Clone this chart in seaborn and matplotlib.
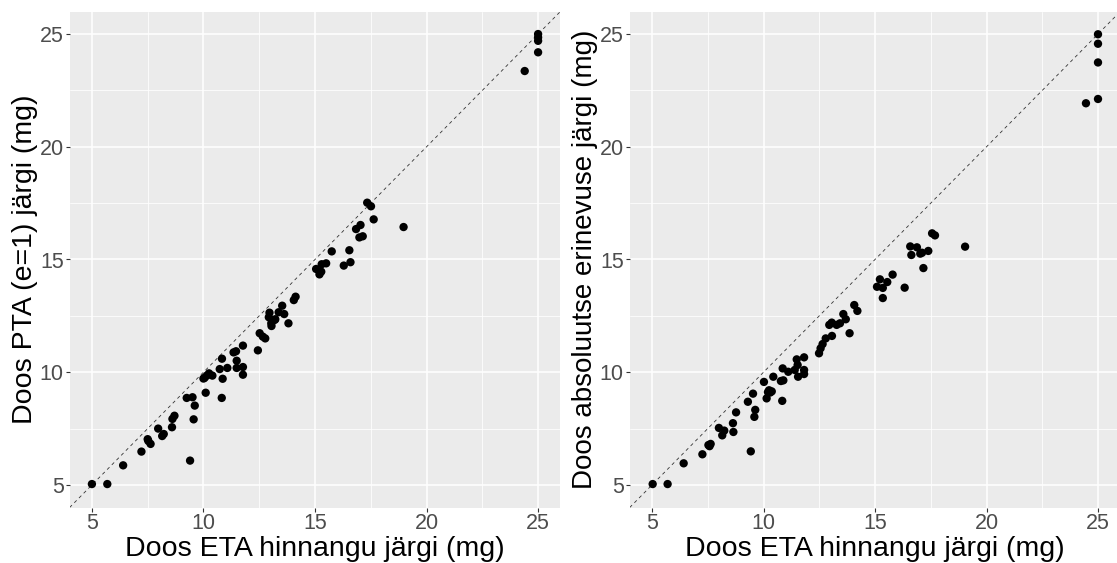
import matplotlib
matplotlib.use("Agg")
import matplotlib.pyplot as plt
import seaborn as sns
import pandas as pd

# ETA-based dose vs. dose from the PTA (e=1) criterion
eta_pta = [5.0, 5.69, 6.40, 7.22, 9.40, 7.53, 7.50, 7.63, 7.97, 8.15, 8.22, 8.59, 8.61, 8.70,
           9.25, 9.51, 9.61, 9.56, 10.10, 10.82, 10.0, 10.05, 10.15, 10.25, 10.4, 10.86, 10.73,
           11.07, 10.83, 11.49, 11.77, 11.49, 11.77, 11.35, 11.46, 11.77, 12.44, 12.52, 12.66,
           12.77, 12.96, 12.93, 13.19, 13.04, 13.05, 13.37, 13.62, 13.53, 13.81, 14.05, 14.13,
           13.22, 15.05, 15.2, 15.28, 15.30, 15.50, 15.75, 16.29, 16.59, 16.54, 16.84, 17.04,
           16.99, 17.14, 17.34, 17.51, 17.63, 18.97, 25.0, 25.0, 25.0, 25.0, 24.4]
dose_pta = [5.04, 5.04, 5.87, 6.48, 6.08, 6.95, 7.03, 6.82, 7.50, 7.17, 7.26, 7.56, 7.93, 8.07,
            8.86, 8.89, 8.52, 7.91, 9.09, 8.86, 9.72, 9.75, 9.85, 9.95, 9.85, 9.71, 10.14,
            10.19, 10.6, 10.19, 10.23, 10.51, 9.89, 10.88, 10.93, 11.18, 10.97, 11.73, 11.58,
            11.5, 12.64, 12.44, 12.32, 12.17, 12.05, 12.66, 12.58, 12.95, 12.17, 13.2, 13.35,
            12.35, 14.58, 14.34, 14.46, 14.79, 14.83, 15.36, 14.73, 14.88, 15.41, 16.35, 16.53,
            15.98, 16.03, 17.52, 17.36, 16.78, 16.44, 25.0, 24.85, 24.7, 24.19, 23.36]

# ETA-based dose vs. dose from the absolute-difference criterion
eta_abs = [5.03, 5.70, 6.42, 7.26, 9.43, 7.53, 7.63, 7.58, 8.0, 8.15, 8.24, 8.63, 8.65, 8.77,
           9.30, 9.53, 9.63, 9.59, 10.02, 10.14, 10.25, 10.3, 10.37, 10.2, 10.44, 10.84, 10.78,
           10.89, 10.86, 11.11, 11.4, 11.49, 11.53, 11.55, 11.82, 11.82, 11.82, 12.49, 12.56,
           12.65, 12.79, 13.07, 12.95, 13.06, 13.28, 13.43, 13.58, 13.69, 13.86, 14.07, 14.21,
           15.09, 15.22, 15.35, 15.55, 15.79, 15.35, 16.33, 16.58, 16.63, 16.88, 17.03, 17.11,
           17.39, 17.17, 17.56, 17.69, 19.04, 25.0, 25.0, 25.0, 25.0, 24.46]
dose_abs = [5.04, 5.04, 5.96, 6.36, 6.49, 6.77, 6.82, 6.72, 7.53, 7.2, 7.41, 7.74, 7.35, 8.22,
            8.69, 9.05, 8.33, 8.02, 9.57, 8.84, 9.2, 9.1, 9.15, 9.12, 9.8, 8.73, 9.61,
            9.64, 10.17, 10.02, 10.1, 10.57, 10.32, 9.8, 10.66, 10.10, 9.92, 10.84, 11.06,
            11.25, 11.5, 11.61, 12.1, 12.2, 12.1, 12.17, 12.58, 12.35, 11.73, 12.98, 12.72,
            13.79, 14.12, 13.74, 14.0, 14.33, 13.29, 13.75, 15.58, 15.2, 15.54, 15.26, 15.3,
            15.38, 14.62, 16.16, 16.07, 15.57, 24.99, 24.57, 23.74, 22.12, 21.93]

ticks = [5, 10, 15, 20, 25]
minor_ticks = [7.5, 12.5, 17.5, 22.5]
xlabel = "Doos ETA hinnangu järgi (mg)"
ylabels = ["Doos PTA (e=1) järgi (mg)", "Doos absoluutse erinevuse järgi (mg)"]

sns.set_theme(style="darkgrid")
plt.rcParams["font.family"] = ["Liberation Sans", "DejaVu Sans"]

fig = plt.figure(figsize=(11.17, 5.63), dpi=100)
W, H = 1117, 563
ax1 = fig.add_axes([69.6 / W, 1 - 507.5 / H, 490.8 / W, 496 / H])
ax2 = fig.add_axes([629.7 / W, 1 - 507.5 / H, 490.6 / W, 496 / H])

panels = [(ax1, eta_pta, dose_pta, ylabels[0], 20.5),
          (ax2, eta_abs, dose_abs, ylabels[1], 20)]
for ax, xs, ys, ylab, ysize in panels:
    df = pd.DataFrame({"eta": xs, "dose": ys})
    ax.set_facecolor("#EBEBEB")
    ax.set_xlim(4, 26)
    ax.set_ylim(4, 26)
    ax.set_xticks(ticks)
    ax.set_yticks(ticks)
    ax.set_xticks(minor_ticks, minor=True)
    ax.set_yticks(minor_ticks, minor=True)
    ax.grid(which="major", color="white", linewidth=1.1)
    ax.grid(which="minor", color="white", linewidth=0.55)
    ax.set_axisbelow(True)
    for s in ax.spines.values():
        s.set_visible(False)
    ax.plot([4, 26], [4, 26], linestyle=(0, (4, 4)), color="#333333", linewidth=0.6, zorder=2)
    sns.scatterplot(data=df, x="eta", y="dose", ax=ax, color="black", s=36,
                    edgecolor="none", linewidth=0, zorder=3)
    ax.tick_params(axis="both", which="major", length=2.75, width=0.8, color="#333333",
                   labelsize=15.5, labelcolor="#4D4D4D", pad=1.5, bottom=True, left=True)
    ax.tick_params(axis="both", which="minor", length=0)
    ax.set_xlabel(xlabel, fontsize=20.5, color="black", labelpad=1.5)
    ax.set_ylabel(ylab, fontsize=ysize, color="black", labelpad=1)

fig.savefig("out.png", dpi=100)
